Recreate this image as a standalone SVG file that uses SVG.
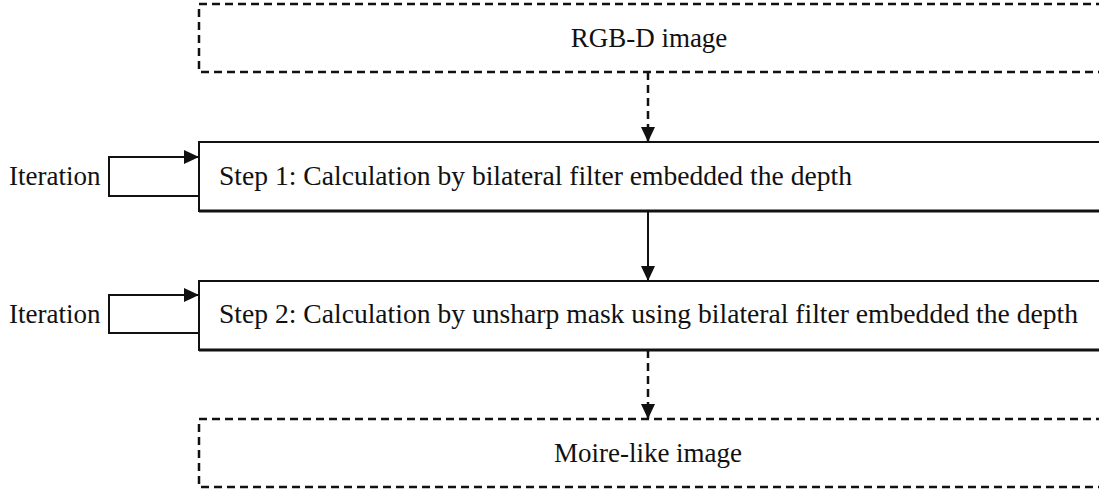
<svg xmlns="http://www.w3.org/2000/svg" width="1099" height="494" viewBox="0 0 1099 494">
<style>
  text { font-family: 'Liberation Serif', 'Times New Roman', Times, serif; font-size: 27px; fill: #111; }
  text.step { font-size: 27.6px; }
  .dashbox { fill: none; stroke: #111; stroke-width: 2.5; stroke-dasharray: 8 5; }
  .box { fill: #fff; stroke: #111; stroke-width: 2; }
  .bottom { stroke: #111; stroke-width: 3; }
  .solid { fill: none; stroke: #111; stroke-width: 2; }
  .dash { fill: none; stroke: #111; stroke-width: 2.5; stroke-dasharray: 8 5; }
</style>
<defs>
  <marker id="ah" markerWidth="16" markerHeight="16" refX="15" refY="8" orient="auto" markerUnits="userSpaceOnUse">
    <path d="M0,1 L15,8 L0,15 Z" fill="#111"/>
  </marker>
</defs>
<rect width="1099" height="494" fill="#fff"/>
<g id="connectors">
  <line class="dash" x1="648" y1="72" x2="648" y2="142" marker-end="url(#ah)"/>
  <line class="solid" x1="648" y1="211" x2="648" y2="281" marker-end="url(#ah)"/>
  <line class="dash" x1="648" y1="350" x2="648" y2="419" marker-end="url(#ah)"/>
  <path class="solid" d="M199,196 H109 V157 H199" marker-end="url(#ah)"/>
  <path class="solid" d="M199,333 H109 V295 H199" marker-end="url(#ah)"/>
</g>
<g id="rgbd">
  <rect class="dashbox" x="199" y="4" width="920" height="68"/>
  <text x="649" y="47" text-anchor="middle">RGB-D image</text>
</g>
<g id="step1">
  <rect class="box" x="199" y="142" width="920" height="69"/>
  <line class="bottom" x1="199" y1="211" x2="1110" y2="211"/>
  <text class="step" x="219" y="185">Step 1: Calculation by bilateral filter embedded the depth</text>
</g>
<g id="step2">
  <rect class="box" x="199" y="281" width="920" height="69"/>
  <line class="bottom" x1="199" y1="350" x2="1110" y2="350"/>
  <text class="step" x="219" y="323">Step 2: Calculation by unsharp mask using bilateral filter embedded the depth</text>
</g>
<g id="moire">
  <rect class="dashbox" x="199" y="419" width="920" height="68"/>
  <text x="648" y="462" text-anchor="middle">Moire-like image</text>
</g>
<g id="iter1">
  <text x="9" y="185">Iteration</text>
</g>
<g id="iter2">
  <text x="9" y="323">Iteration</text>
</g>
</svg>
